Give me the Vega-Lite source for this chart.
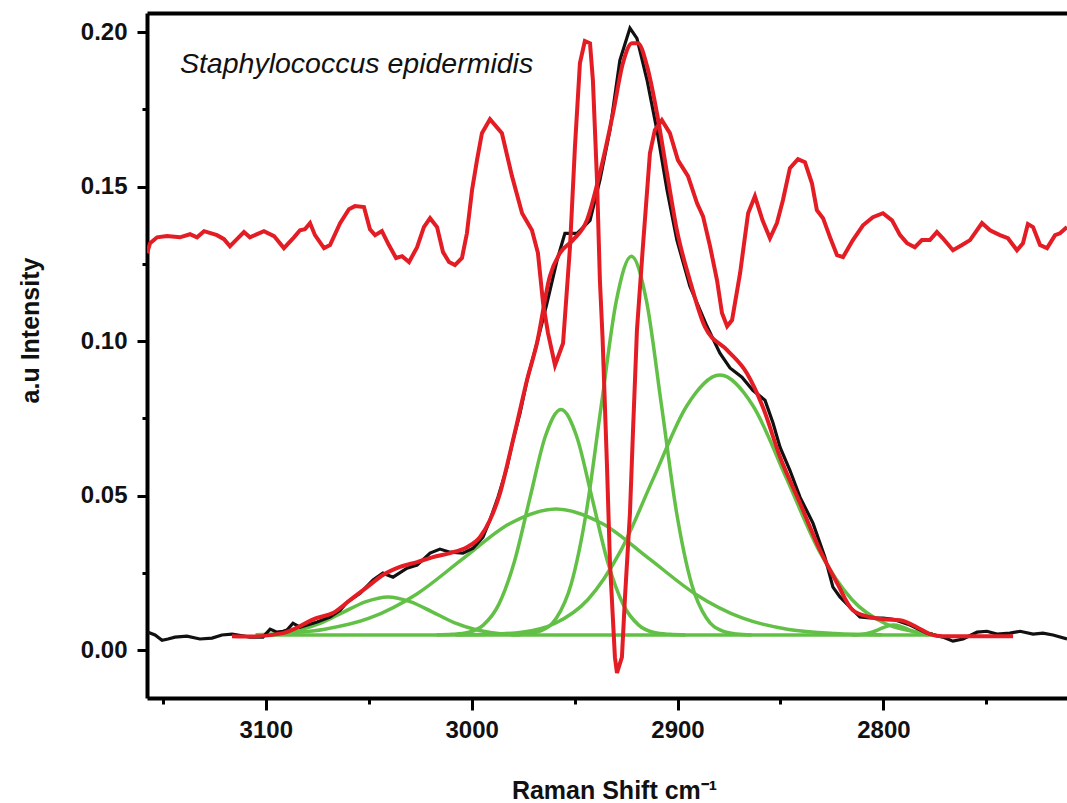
{
  "$schema": "https://vega.github.io/schema/vega-lite/v6.json",
  "width": 920,
  "height": 685,
  "autosize": {"type": "none"},
  "padding": {"left": 147, "top": 13, "right": 0, "bottom": 105},
  "background": "white",
  "config": {"view": {"stroke": null}, "font": "Liberation Sans"},
  "datasets": {
    "gauss": [
      {"s": "base", "x": 3105, "y": 0.0049}, {"s": "base", "x": 2776, "y": 0.0049},
      {"s": "g1", "x": 3104.8, "y": 0.0050}, {"s": "g1", "x": 3094.1, "y": 0.0054}, {"s": "g1", "x": 3083.4, "y": 0.0066}, {"s": "g1", "x": 3072.7, "y": 0.0089}, {"s": "g1", "x": 3062.0, "y": 0.0124}, {"s": "g1", "x": 3051.3, "y": 0.0157}, {"s": "g1", "x": 3040.6, "y": 0.0172}, {"s": "g1", "x": 3029.9, "y": 0.0157}, {"s": "g1", "x": 3019.2, "y": 0.0124}, {"s": "g1", "x": 3008.5, "y": 0.0089}, {"s": "g1", "x": 2997.8, "y": 0.0066}, {"s": "g1", "x": 2987.1, "y": 0.0054}, {"s": "g1", "x": 2976.4, "y": 0.0050},
      {"s": "g2", "x": 3094.6, "y": 0.0054}, {"s": "g2", "x": 3072.0, "y": 0.0067}, {"s": "g2", "x": 3049.4, "y": 0.0104}, {"s": "g2", "x": 3026.8, "y": 0.0181}, {"s": "g2", "x": 3004.2, "y": 0.0296}, {"s": "g2", "x": 2981.6, "y": 0.0409}, {"s": "g2", "x": 2959.0, "y": 0.0457}, {"s": "g2", "x": 2936.4, "y": 0.0409}, {"s": "g2", "x": 2913.8, "y": 0.0296}, {"s": "g2", "x": 2891.2, "y": 0.0181}, {"s": "g2", "x": 2868.6, "y": 0.0104}, {"s": "g2", "x": 2846.0, "y": 0.0067}, {"s": "g2", "x": 2823.4, "y": 0.0054}, {"s": "g2", "x": 2800.8, "y": 0.0050},
      {"s": "g3", "x": 3017.0, "y": 0.0049}, {"s": "g3", "x": 3009.45, "y": 0.0051}, {"s": "g3", "x": 3001.9, "y": 0.0057}, {"s": "g3", "x": 2994.35, "y": 0.0081}, {"s": "g3", "x": 2986.8, "y": 0.0148}, {"s": "g3", "x": 2979.25, "y": 0.0286}, {"s": "g3", "x": 2971.7, "y": 0.0492}, {"s": "g3", "x": 2964.15, "y": 0.0693}, {"s": "g3", "x": 2956.6, "y": 0.0779}, {"s": "g3", "x": 2949.05, "y": 0.0693}, {"s": "g3", "x": 2941.5, "y": 0.0492}, {"s": "g3", "x": 2933.95, "y": 0.0286}, {"s": "g3", "x": 2926.4, "y": 0.0148}, {"s": "g3", "x": 2918.85, "y": 0.0081}, {"s": "g3", "x": 2911.3, "y": 0.0057}, {"s": "g3", "x": 2903.75, "y": 0.0051}, {"s": "g3", "x": 2896.2, "y": 0.0049},
      {"s": "g4", "x": 2980.8, "y": 0.0049}, {"s": "g4", "x": 2973.5, "y": 0.0052}, {"s": "g4", "x": 2966.2, "y": 0.0063}, {"s": "g4", "x": 2958.9, "y": 0.0103}, {"s": "g4", "x": 2951.6, "y": 0.0215}, {"s": "g4", "x": 2944.3, "y": 0.0447}, {"s": "g4", "x": 2937.0, "y": 0.0793}, {"s": "g4", "x": 2929.7, "y": 0.1131}, {"s": "g4", "x": 2922.4, "y": 0.1275}, {"s": "g4", "x": 2915.1, "y": 0.1131}, {"s": "g4", "x": 2907.8, "y": 0.0793}, {"s": "g4", "x": 2900.5, "y": 0.0447}, {"s": "g4", "x": 2893.2, "y": 0.0215}, {"s": "g4", "x": 2885.9, "y": 0.0103}, {"s": "g4", "x": 2878.6, "y": 0.0063}, {"s": "g4", "x": 2871.3, "y": 0.0052}, {"s": "g4", "x": 2864.0, "y": 0.0049},
      {"s": "g5", "x": 3007.8, "y": 0.0049}, {"s": "g5", "x": 2991.75, "y": 0.0051}, {"s": "g5", "x": 2975.7, "y": 0.0058}, {"s": "g5", "x": 2959.65, "y": 0.0086}, {"s": "g5", "x": 2943.6, "y": 0.0163}, {"s": "g5", "x": 2927.55, "y": 0.0322}, {"s": "g5", "x": 2911.5, "y": 0.0559}, {"s": "g5", "x": 2895.45, "y": 0.0791}, {"s": "g5", "x": 2879.4, "y": 0.0890}, {"s": "g5", "x": 2863.35, "y": 0.0791}, {"s": "g5", "x": 2847.3, "y": 0.0559}, {"s": "g5", "x": 2831.25, "y": 0.0322}, {"s": "g5", "x": 2815.2, "y": 0.0163}, {"s": "g5", "x": 2799.15, "y": 0.0086}, {"s": "g5", "x": 2783.1, "y": 0.0058}, {"s": "g5", "x": 2776.0, "y": 0.0053},
      {"s": "g6", "x": 2815.4, "y": 0.0049}, {"s": "g6", "x": 2812.0, "y": 0.0050}, {"s": "g6", "x": 2808.6, "y": 0.0053}, {"s": "g6", "x": 2805.2, "y": 0.0059}, {"s": "g6", "x": 2801.8, "y": 0.0068}, {"s": "g6", "x": 2798.4, "y": 0.0077}, {"s": "g6", "x": 2795.0, "y": 0.0081}, {"s": "g6", "x": 2791.6, "y": 0.0077}, {"s": "g6", "x": 2788.2, "y": 0.0068}, {"s": "g6", "x": 2784.8, "y": 0.0059}, {"s": "g6", "x": 2781.4, "y": 0.0053}, {"s": "g6", "x": 2778.0, "y": 0.0050}
    ],
    "black": [
      {"x": 3157.2, "y": 0.0058}, {"x": 3153.8, "y": 0.0049}, {"x": 3150.4, "y": 0.0032}, {"x": 3147.5, "y": 0.0036}, {"x": 3144.1, "y": 0.0042}, {"x": 3138.3, "y": 0.0045}, {"x": 3132.0, "y": 0.0036}, {"x": 3126.1, "y": 0.0039}, {"x": 3121.3, "y": 0.0049}, {"x": 3116.4, "y": 0.0052}, {"x": 3107.7, "y": 0.0042}, {"x": 3101.4, "y": 0.0042}, {"x": 3097.9, "y": 0.0068}, {"x": 3094.6, "y": 0.0058}, {"x": 3091.6, "y": 0.0061}, {"x": 3089.7, "y": 0.0065}, {"x": 3086.8, "y": 0.0087}, {"x": 3083.4, "y": 0.0074}, {"x": 3075.1, "y": 0.0091}, {"x": 3068.8, "y": 0.0107}, {"x": 3063.9, "y": 0.0129}, {"x": 3060.5, "y": 0.0155}, {"x": 3054.2, "y": 0.0184}, {"x": 3047.9, "y": 0.0227}, {"x": 3043.1, "y": 0.0249}, {"x": 3038.2, "y": 0.0236}, {"x": 3031.4, "y": 0.0265}, {"x": 3026.5, "y": 0.0275}, {"x": 3020.2, "y": 0.0314}, {"x": 3015.4, "y": 0.0327}, {"x": 3010.5, "y": 0.0317}, {"x": 3004.2, "y": 0.0314}, {"x": 2999.3, "y": 0.0330}, {"x": 2994.5, "y": 0.0366}, {"x": 2991.1, "y": 0.0421}, {"x": 2987.2, "y": 0.0495}, {"x": 2982.8, "y": 0.0592}, {"x": 2979.9, "y": 0.0680}, {"x": 2976.5, "y": 0.0767}, {"x": 2973.1, "y": 0.0874}, {"x": 2968.3, "y": 0.0993}, {"x": 2963.4, "y": 0.1123}, {"x": 2958.5, "y": 0.1262}, {"x": 2954.7, "y": 0.1349}, {"x": 2948.8, "y": 0.1349}, {"x": 2942.5, "y": 0.1391}, {"x": 2937.7, "y": 0.1521}, {"x": 2932.8, "y": 0.1683}, {"x": 2928.0, "y": 0.1909}, {"x": 2923.1, "y": 0.2013}, {"x": 2919.7, "y": 0.1980}, {"x": 2914.8, "y": 0.1845}, {"x": 2910.0, "y": 0.1683}, {"x": 2905.1, "y": 0.1489}, {"x": 2900.3, "y": 0.1327}, {"x": 2894.0, "y": 0.1178}, {"x": 2885.7, "y": 0.1048}, {"x": 2879.4, "y": 0.0961}, {"x": 2874.5, "y": 0.0913}, {"x": 2868.7, "y": 0.0883}, {"x": 2863.4, "y": 0.0841}, {"x": 2857.5, "y": 0.0809}, {"x": 2853.6, "y": 0.0735}, {"x": 2850.2, "y": 0.0657}, {"x": 2845.4, "y": 0.0582}, {"x": 2840.5, "y": 0.0495}, {"x": 2834.2, "y": 0.0411}, {"x": 2828.4, "y": 0.0301}, {"x": 2824.5, "y": 0.0204}, {"x": 2821.1, "y": 0.0172}, {"x": 2816.2, "y": 0.0139}, {"x": 2811.4, "y": 0.0107}, {"x": 2806.5, "y": 0.0104}, {"x": 2800.2, "y": 0.0104}, {"x": 2795.3, "y": 0.0100}, {"x": 2787.1, "y": 0.0081}, {"x": 2778.8, "y": 0.0055}, {"x": 2771.1, "y": 0.0042}, {"x": 2766.2, "y": 0.0029}, {"x": 2761.3, "y": 0.0036}, {"x": 2754.5, "y": 0.0058}, {"x": 2749.7, "y": 0.0061}, {"x": 2744.8, "y": 0.0052}, {"x": 2738.5, "y": 0.0055}, {"x": 2733.6, "y": 0.0061}, {"x": 2727.3, "y": 0.0052}, {"x": 2722.5, "y": 0.0055}, {"x": 2717.6, "y": 0.0049}, {"x": 2710.8, "y": 0.0036}
    ],
    "fit": [
      {"x": 3116.4, "y": 0.0045}, {"x": 3107.7, "y": 0.0044}, {"x": 3091.6, "y": 0.0055}, {"x": 3075.1, "y": 0.0104}, {"x": 3067.4, "y": 0.0120}, {"x": 3059.1, "y": 0.0162}, {"x": 3050.8, "y": 0.0204}, {"x": 3043.1, "y": 0.0243}, {"x": 3034.8, "y": 0.0269}, {"x": 3026.5, "y": 0.0285}, {"x": 3018.8, "y": 0.0301}, {"x": 3010.5, "y": 0.0314}, {"x": 3002.3, "y": 0.0333}, {"x": 2995.9, "y": 0.0366}, {"x": 2991.1, "y": 0.0421}, {"x": 2986.2, "y": 0.0508}, {"x": 2981.4, "y": 0.0637}, {"x": 2976.5, "y": 0.0777}, {"x": 2973.1, "y": 0.0874}, {"x": 2968.3, "y": 0.0993}, {"x": 2962.0, "y": 0.1210}, {"x": 2957.1, "y": 0.1285}, {"x": 2950.8, "y": 0.1327}, {"x": 2944.0, "y": 0.1391}, {"x": 2937.7, "y": 0.1544}, {"x": 2931.3, "y": 0.1738}, {"x": 2926.5, "y": 0.1900}, {"x": 2922.1, "y": 0.1964}, {"x": 2919.2, "y": 0.1964}, {"x": 2914.8, "y": 0.1890}, {"x": 2910.0, "y": 0.1738}, {"x": 2905.1, "y": 0.1544}, {"x": 2900.3, "y": 0.1359}, {"x": 2894.0, "y": 0.1197}, {"x": 2886.6, "y": 0.1045}, {"x": 2875.9, "y": 0.0971}, {"x": 2866.3, "y": 0.0896}, {"x": 2858.5, "y": 0.0786}, {"x": 2850.2, "y": 0.0625}, {"x": 2840.5, "y": 0.0476}, {"x": 2830.8, "y": 0.0324}, {"x": 2822.5, "y": 0.0217}, {"x": 2814.8, "y": 0.0129}, {"x": 2806.5, "y": 0.0107}, {"x": 2800.2, "y": 0.0100}, {"x": 2791.9, "y": 0.0097}, {"x": 2783.7, "y": 0.0074}, {"x": 2777.4, "y": 0.0052}, {"x": 2771.1, "y": 0.0045}, {"x": 2737.0, "y": 0.0045}
    ],
    "deriv": [
      {"x": 3157.7, "y": 0.1285}, {"x": 3156.2, "y": 0.1317}, {"x": 3152.8, "y": 0.1336}, {"x": 3148.0, "y": 0.1340}, {"x": 3141.7, "y": 0.1336}, {"x": 3136.8, "y": 0.1346}, {"x": 3133.4, "y": 0.1336}, {"x": 3130.0, "y": 0.1356}, {"x": 3123.7, "y": 0.1343}, {"x": 3120.3, "y": 0.1330}, {"x": 3117.4, "y": 0.1307}, {"x": 3114.0, "y": 0.1330}, {"x": 3110.6, "y": 0.1353}, {"x": 3107.7, "y": 0.1336}, {"x": 3100.9, "y": 0.1356}, {"x": 3096.0, "y": 0.1340}, {"x": 3091.2, "y": 0.1301}, {"x": 3086.3, "y": 0.1336}, {"x": 3083.4, "y": 0.1359}, {"x": 3081.0, "y": 0.1362}, {"x": 3078.5, "y": 0.1382}, {"x": 3076.1, "y": 0.1343}, {"x": 3071.7, "y": 0.1301}, {"x": 3068.8, "y": 0.1311}, {"x": 3063.9, "y": 0.1382}, {"x": 3059.6, "y": 0.1427}, {"x": 3056.7, "y": 0.1437}, {"x": 3052.3, "y": 0.1434}, {"x": 3049.4, "y": 0.1362}, {"x": 3046.9, "y": 0.1343}, {"x": 3043.6, "y": 0.1356}, {"x": 3040.2, "y": 0.1311}, {"x": 3036.7, "y": 0.1269}, {"x": 3033.8, "y": 0.1275}, {"x": 3030.4, "y": 0.1256}, {"x": 3026.5, "y": 0.1304}, {"x": 3023.2, "y": 0.1369}, {"x": 3020.2, "y": 0.1398}, {"x": 3016.8, "y": 0.1369}, {"x": 3013.9, "y": 0.1288}, {"x": 3011.0, "y": 0.1256}, {"x": 3008.1, "y": 0.1246}, {"x": 3004.7, "y": 0.1269}, {"x": 3002.3, "y": 0.1349}, {"x": 2999.8, "y": 0.1489}, {"x": 2997.4, "y": 0.1586}, {"x": 2995.0, "y": 0.1673}, {"x": 2991.1, "y": 0.1718}, {"x": 2985.3, "y": 0.1673}, {"x": 2980.4, "y": 0.1534}, {"x": 2975.5, "y": 0.1414}, {"x": 2970.7, "y": 0.1359}, {"x": 2967.8, "y": 0.1285}, {"x": 2965.3, "y": 0.1123}, {"x": 2962.9, "y": 0.1026}, {"x": 2959.5, "y": 0.0922}, {"x": 2955.6, "y": 0.0993}, {"x": 2952.2, "y": 0.1307}, {"x": 2949.8, "y": 0.1631}, {"x": 2947.4, "y": 0.1900}, {"x": 2945.0, "y": 0.1971}, {"x": 2942.5, "y": 0.1964}, {"x": 2941.1, "y": 0.1845}, {"x": 2939.1, "y": 0.1521}, {"x": 2937.7, "y": 0.1197}, {"x": 2936.4, "y": 0.1010}, {"x": 2934.3, "y": 0.0605}, {"x": 2932.8, "y": 0.0282}, {"x": 2930.4, "y": -0.0023}, {"x": 2929.4, "y": -0.0074}, {"x": 2927.0, "y": -0.0023}, {"x": 2925.5, "y": 0.0172}, {"x": 2923.1, "y": 0.0443}, {"x": 2921.6, "y": 0.0712}, {"x": 2919.7, "y": 0.1036}, {"x": 2916.8, "y": 0.1307}, {"x": 2913.4, "y": 0.1608}, {"x": 2911.0, "y": 0.1683}, {"x": 2907.6, "y": 0.1715}, {"x": 2903.7, "y": 0.1673}, {"x": 2899.8, "y": 0.1586}, {"x": 2894.9, "y": 0.1534}, {"x": 2890.5, "y": 0.1446}, {"x": 2887.6, "y": 0.1404}, {"x": 2884.2, "y": 0.1307}, {"x": 2880.8, "y": 0.1197}, {"x": 2878.4, "y": 0.1091}, {"x": 2875.9, "y": 0.1048}, {"x": 2873.5, "y": 0.1068}, {"x": 2869.6, "y": 0.1220}, {"x": 2865.7, "y": 0.1414}, {"x": 2862.4, "y": 0.1469}, {"x": 2858.7, "y": 0.1391}, {"x": 2855.1, "y": 0.1333}, {"x": 2851.7, "y": 0.1382}, {"x": 2848.8, "y": 0.1456}, {"x": 2845.4, "y": 0.1560}, {"x": 2841.5, "y": 0.1589}, {"x": 2838.1, "y": 0.1579}, {"x": 2834.7, "y": 0.1511}, {"x": 2832.3, "y": 0.1424}, {"x": 2829.3, "y": 0.1398}, {"x": 2825.9, "y": 0.1336}, {"x": 2822.5, "y": 0.1278}, {"x": 2819.6, "y": 0.1272}, {"x": 2814.8, "y": 0.1327}, {"x": 2809.9, "y": 0.1375}, {"x": 2805.1, "y": 0.1401}, {"x": 2800.2, "y": 0.1414}, {"x": 2795.8, "y": 0.1391}, {"x": 2791.9, "y": 0.1343}, {"x": 2788.5, "y": 0.1317}, {"x": 2784.7, "y": 0.1304}, {"x": 2781.3, "y": 0.1327}, {"x": 2777.4, "y": 0.1327}, {"x": 2774.0, "y": 0.1353}, {"x": 2771.1, "y": 0.1333}, {"x": 2766.2, "y": 0.1294}, {"x": 2761.8, "y": 0.1311}, {"x": 2757.9, "y": 0.1327}, {"x": 2752.1, "y": 0.1382}, {"x": 2748.2, "y": 0.1359}, {"x": 2743.4, "y": 0.1343}, {"x": 2739.5, "y": 0.1333}, {"x": 2735.1, "y": 0.1294}, {"x": 2732.2, "y": 0.1317}, {"x": 2729.8, "y": 0.1379}, {"x": 2727.3, "y": 0.1369}, {"x": 2723.9, "y": 0.1311}, {"x": 2720.5, "y": 0.1301}, {"x": 2716.6, "y": 0.1343}, {"x": 2714.2, "y": 0.1349}, {"x": 2710.8, "y": 0.1369}
    ]
  },
  "layer": [
    {
      "data": {"name": "gauss"},
      "mark": {"type": "line", "color": "#62c046", "strokeWidth": 3.5, "interpolate": "monotone", "clip": true},
      "encoding": {
        "x": {
          "field": "x", "type": "quantitative",
          "scale": {"domain": [2710.8, 3157.7], "reverse": true, "nice": false, "zero": false},
          "axis": {
            "orient": "bottom",
            "values": [3150, 3100, 3050, 3000, 2950, 2900, 2850, 2800, 2750],
            "labelExpr": "datum.value % 100 === 0 ? format(datum.value, 'd') : ''",
            "tickSize": {"condition": {"test": "datum.value % 100 === 0", "value": 12}, "value": 6},
            "tickWidth": 3, "tickColor": "black",
            "domainWidth": 4, "domainColor": "black",
            "grid": false,
            "labelFont": "Liberation Sans", "labelFontSize": 24, "labelFontWeight": "bold", "labelColor": "#111",
            "labelPadding": 8,
            "title": "Raman Shift cm⁻¹",
            "titleFont": "Liberation Sans", "titleFontSize": 25, "titleFontWeight": "bold", "titleColor": "#111",
            "titleX": 467, "titleY": 100, "titleAlign": "center", "titleBaseline": "alphabetic"
          }
        },
        "y": {
          "field": "y", "type": "quantitative",
          "scale": {"domain": [-0.0155, 0.2062], "nice": false, "zero": false},
          "axis": {
            "values": [0, 0.025, 0.05, 0.075, 0.1, 0.125, 0.15, 0.175, 0.2],
            "labelExpr": "round(datum.value * 1000) % 50 === 0 ? format(datum.value, '.2f') : ''",
            "tickSize": {"condition": {"test": "round(datum.value * 1000) % 50 === 0", "value": 10}, "value": 5},
            "tickWidth": 3, "tickColor": "black",
            "domainWidth": 4, "domainColor": "black",
            "grid": false,
            "labelFont": "Liberation Sans", "labelFontSize": 24, "labelFontWeight": "bold", "labelColor": "#111",
            "labelPadding": 10,
            "title": "a.u Intensity",
            "titleFont": "Liberation Sans", "titleFontSize": 25, "titleFontWeight": "bold", "titleColor": "#111",
            "titleAngle": 270, "titleX": -117, "titleY": 317, "titleAlign": "center", "titleBaseline": "middle"
          }
        },
        "detail": {"field": "s"}
      }
    },
    {
      "data": {"name": "black"},
      "mark": {"type": "line", "color": "#111111", "strokeWidth": 3.2, "clip": true},
      "encoding": {
        "x": {"field": "x", "type": "quantitative", "axis": null},
        "y": {"field": "y", "type": "quantitative"}
      }
    },
    {
      "data": {"name": "fit"},
      "mark": {"type": "line", "color": "#e41c24", "strokeWidth": 4, "interpolate": "monotone", "clip": true},
      "encoding": {
        "x": {"field": "x", "type": "quantitative", "axis": null},
        "y": {"field": "y", "type": "quantitative"}
      }
    },
    {
      "data": {"name": "deriv"},
      "mark": {"type": "line", "color": "#e41c24", "strokeWidth": 4, "clip": true},
      "encoding": {
        "x": {"field": "x", "type": "quantitative", "axis": null},
        "y": {"field": "y", "type": "quantitative"}
      }
    },
    {
      "data": {"values": [{"x": 3141.7, "y": 0.1867, "label": "Staphylococcus epidermidis"}]},
      "mark": {"type": "text", "align": "left", "baseline": "alphabetic", "font": "Liberation Sans", "fontStyle": "italic", "fontSize": 28.5, "color": "#111"},
      "encoding": {
        "x": {"field": "x", "type": "quantitative", "axis": {"orient": "top", "labels": false, "ticks": false, "title": null, "grid": false, "domainWidth": 4, "domainColor": "black"}},
        "y": {"field": "y", "type": "quantitative"},
        "text": {"field": "label"}
      }
    }
  ],
  "resolve": {"axis": {"x": "independent"}}
}
